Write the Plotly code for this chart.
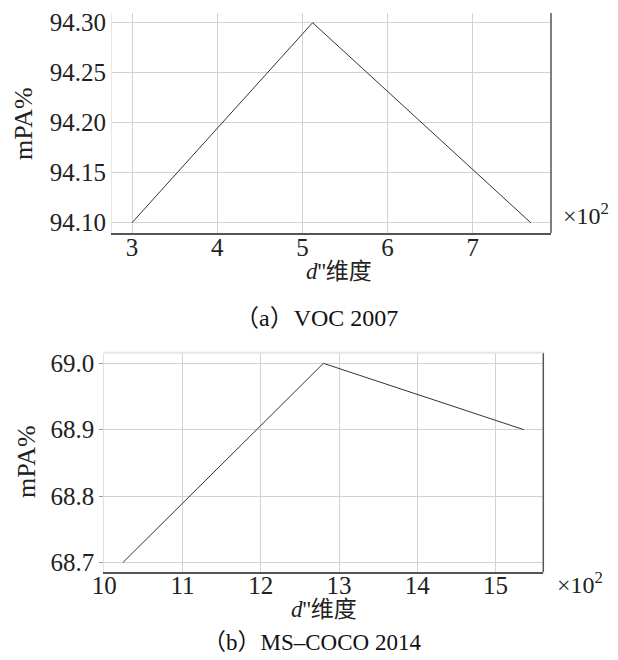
import plotly.graph_objects as go

# Data (d'' dimension in units of 10^2, mPA %)
voc_dim = [3.00, 5.12, 7.68]
voc_mpa = [94.10, 94.30, 94.10]
voc_ticks_x = [3, 4, 5, 6, 7]
voc_ticks_y = [94.10, 94.15, 94.20, 94.25, 94.30]
voc_ticklabels_y = ["94.10", "94.15", "94.20", "94.25", "94.30"]

coco_dim = [10.24, 12.80, 15.36]
coco_mpa = [68.70, 69.00, 68.90]
coco_ticks_x = [10, 11, 12, 13, 14, 15]
coco_ticks_y = [68.7, 68.8, 68.9, 69.0]
coco_ticklabels_y = ["68.7", "68.8", "68.9", "69.0"]

# page body has an 8px margin; figure is shrunk so it fits the 618x660 window
OFF = 8
W, H = 618 - OFF, 660 - OFF
SERIF = "Liberation Serif"
CJK = "Liberation Serif, Noto Sans CJK SC"
GRID = "#d2d2d2"
LINE = "#333333"

fig = go.Figure()
fig.add_trace(go.Scatter(x=voc_dim, y=voc_mpa, mode="lines",
                         line=dict(color=LINE, width=1), xaxis="x", yaxis="y",
                         showlegend=False, hoverinfo="skip"))
fig.add_trace(go.Scatter(x=coco_dim, y=coco_mpa, mode="lines",
                         line=dict(color=LINE, width=1), xaxis="x2", yaxis="y2",
                         showlegend=False, hoverinfo="skip"))

def px_x(a):
    return (a - OFF) / W

def px_y(a):
    return 1 - (a - OFF) / H

axis_font = dict(family=SERIF, size=25, color="#222")

fig.update_layout(
    width=W, height=H,
    margin=dict(l=0, r=0, t=0, b=0, autoexpand=False),
    paper_bgcolor="white", plot_bgcolor="white",
    font=dict(family=SERIF, color="#222"),
    xaxis=dict(domain=[px_x(112), px_x(551)], anchor="y", automargin=False,
               range=[2.765, 7.918], tickvals=voc_ticks_x,
               showgrid=True, gridcolor=GRID, gridwidth=1, zeroline=False,
               showline=True, linecolor="#555", linewidth=1.5,
               ticks="", tickfont=axis_font, ticklabelstandoff=-9),
    yaxis=dict(domain=[px_y(233), px_y(13)], anchor="x", automargin=False,
               range=[94.0897, 94.3097], tickvals=voc_ticks_y,
               ticktext=voc_ticklabels_y,
               showgrid=True, gridcolor=GRID, gridwidth=1, zeroline=False,
               showline=True, linecolor="#e6e6e6", linewidth=1,
               ticks="", tickfont=axis_font),
    xaxis2=dict(domain=[px_x(104.3), px_x(543.3)], anchor="y2", automargin=False,
                range=[10.0, 15.61], tickvals=coco_ticks_x,
                showgrid=True, gridcolor=GRID, gridwidth=1, zeroline=False,
                showline=True, linecolor="#555", linewidth=1.5,
                ticks="", tickfont=axis_font, ticklabelstandoff=-10),
    yaxis2=dict(domain=[px_y(572.3), px_y(352.7)], anchor="x2", automargin=False,
                range=[68.685, 69.016], tickvals=coco_ticks_y,
                ticktext=coco_ticklabels_y,
                showgrid=True, gridcolor=GRID, gridwidth=1, zeroline=False,
                showline=True, linecolor="#e0e0e0", linewidth=1,
                ticks="outside", ticklen=4, tickcolor="#999", tickfont=axis_font),
)

# right borders and top borders
fig.add_shape(type="line", xref="x domain", yref="y domain", x0=1, x1=1, y0=0, y1=1,
              line=dict(color="#555", width=1.5))
fig.add_shape(type="line", xref="x2 domain", yref="y2 domain", x0=1, x1=1, y0=0, y1=1,
              line=dict(color="#555", width=1.5))
fig.add_shape(type="line", xref="x2 domain", yref="y2 domain", x0=0, x1=1, y0=1, y1=1,
              line=dict(color="#e6e6e6", width=2))

xtitle = "<i>d</i>''维度"
anns = [
    dict(text="mPA%", x=px_x(24), y=px_y(124), textangle=-90,
         font=dict(family=SERIF, size=26, color="#222")),
    dict(text="mPA%", x=px_x(26), y=px_y(462), textangle=-90,
         font=dict(family=SERIF, size=26, color="#222")),
    dict(text=xtitle, x=px_x(339), y=px_y(271), font=dict(family=CJK, size=23, color="#222")),
    dict(text=xtitle, x=px_x(324), y=px_y(609), font=dict(family=CJK, size=23, color="#222")),
    dict(text="（a）VOC 2007", x=px_x(316), y=px_y(318),
         font=dict(family=CJK, size=24, color="#111")),
    dict(text="（b）MS–COCO 2014", x=px_x(312), y=px_y(642),
         font=dict(family=CJK, size=23, color="#111")),
    dict(text="×10<sup>2</sup>", x=px_x(586), y=px_y(214), font=dict(family=SERIF, size=24, color="#222")),
    dict(text="×10<sup>2</sup>", x=px_x(580), y=px_y(583), font=dict(family=SERIF, size=24, color="#222")),
]
for a in anns:
    fig.add_annotation(xref="paper", yref="paper", showarrow=False,
                       xanchor="center", yanchor="middle", **a)

fig.write_html("out.html")
